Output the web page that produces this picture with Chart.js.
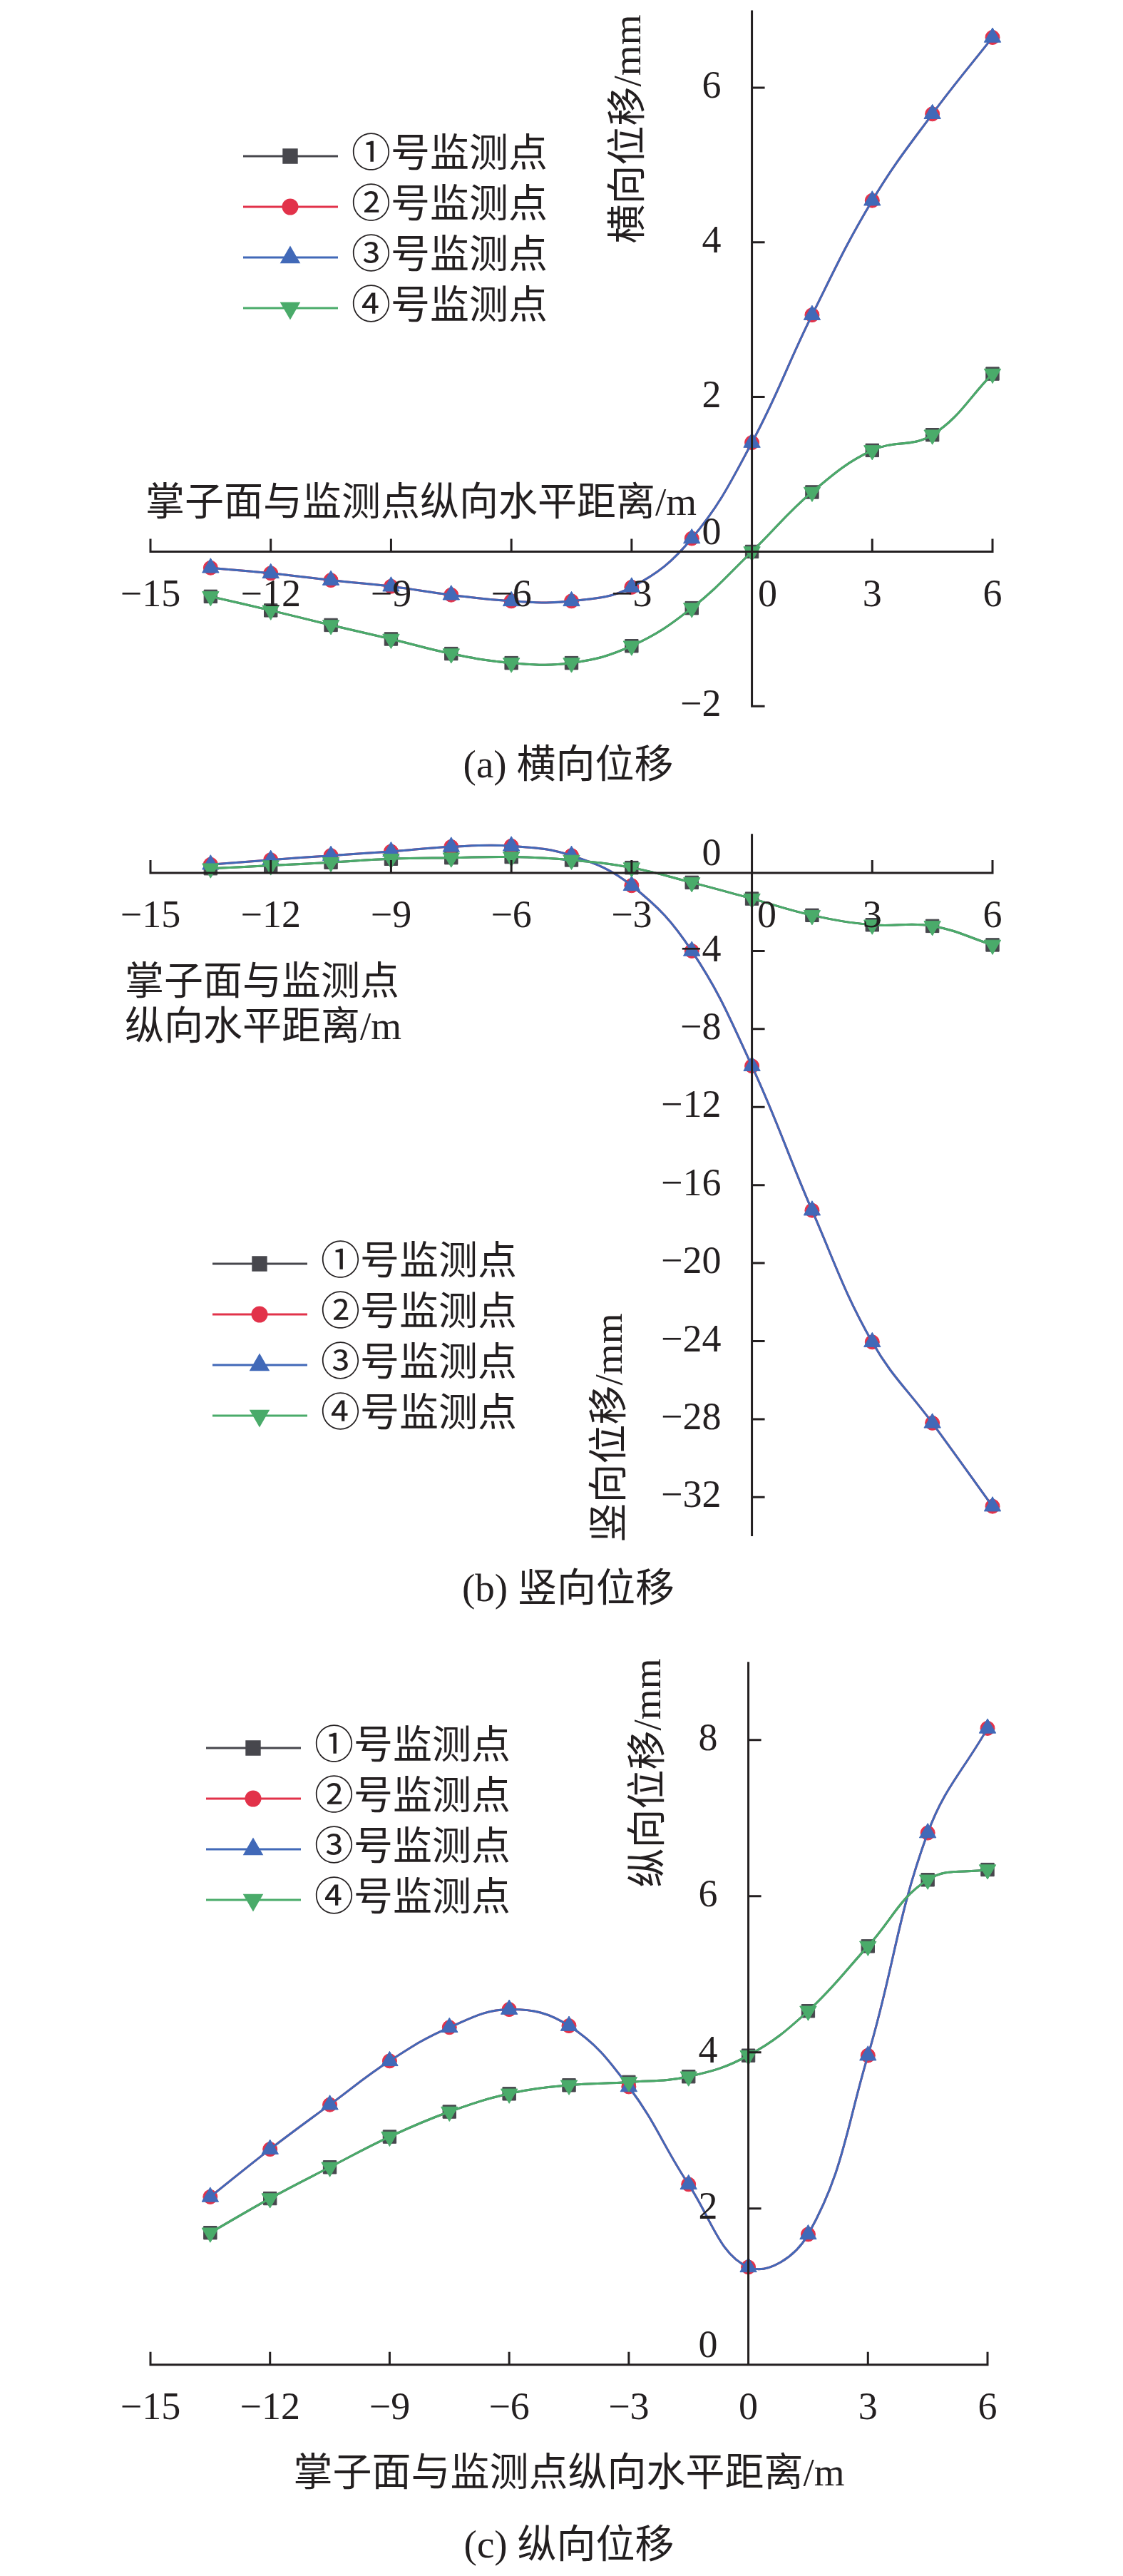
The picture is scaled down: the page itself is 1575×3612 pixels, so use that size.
<!DOCTYPE html>
<html>
<head>
<meta charset="utf-8">
<title>掌子面推进过程中监测点位移</title>
<script src="https://cdn.jsdelivr.net/npm/chart.js@4.4.1/dist/chart.umd.min.js"></script>
<style>
    html, body { margin: 0; padding: 0; background: #fff; }
    body { width: 1575px; height: 3612px; position: relative; overflow: hidden; }
    .panel { position: absolute; left: 0; width: 1575px; }
    .panel canvas { display: block; }
</style>
</head>
<body>
<div class="panel" style="top:0;height:1130px"><canvas id="chartA" width="1575" height="1130"></canvas></div>
<div class="panel" style="top:1130px;height:1170px"><canvas id="chartB" width="1575" height="1170"></canvas></div>
<div class="panel" style="top:2300px;height:1312px"><canvas id="chartC" width="1575" height="1312"></canvas></div>
<script>
// 横坐标：掌子面与监测点纵向水平距离 / m
var distance = [-13.5, -12, -10.5, -9, -7.5, -6, -4.5, -3, -1.5, 0, 1.5, 3, 4.5, 6];
var xTicks = [-15, -12, -9, -6, -3, 0, 3, 6];
var seriesNames = ['①号监测点', '②号监测点', '③号监测点', '④号监测点'];

// (a) 横向位移 / mm
var latTicks = [-2, 0, 2, 4, 6];
var lat1 = [-0.58, -0.76, -0.95, -1.13, -1.32, -1.44, -1.44, -1.22, -0.73, 0.00, 0.77, 1.31, 1.51, 2.30];
var lat2 = [-0.21, -0.28, -0.37, -0.45, -0.56, -0.64, -0.64, -0.46, 0.17, 1.41, 3.06, 4.54, 5.66, 6.65];
var lat3 = [-0.21, -0.28, -0.37, -0.45, -0.56, -0.64, -0.64, -0.46, 0.17, 1.41, 3.06, 4.54, 5.66, 6.65];
var lat4 = [-0.58, -0.76, -0.95, -1.13, -1.32, -1.44, -1.44, -1.22, -0.73, 0.00, 0.77, 1.31, 1.51, 2.30];

// (b) 竖向位移 / mm
var vertTicks = [0, -4, -8, -12, -16, -20, -24, -28, -32];
var vert1 = [0.23, 0.38, 0.54, 0.72, 0.78, 0.82, 0.66, 0.27, -0.49, -1.32, -2.17, -2.66, -2.72, -3.69];
var vert2 = [0.43, 0.67, 0.89, 1.10, 1.34, 1.38, 0.89, -0.65, -4.00, -9.90, -17.30, -24.05, -28.20, -32.47];
var vert3 = [0.43, 0.67, 0.89, 1.10, 1.34, 1.38, 0.89, -0.65, -4.00, -9.90, -17.30, -24.05, -28.20, -32.47];
var vert4 = [0.23, 0.38, 0.54, 0.72, 0.78, 0.82, 0.66, 0.27, -0.49, -1.32, -2.17, -2.66, -2.72, -3.69];

// (c) 纵向位移 / mm
var longTicks = [0, 2, 4, 6, 8];
var long1 = [1.69, 2.13, 2.53, 2.92, 3.24, 3.47, 3.58, 3.62, 3.69, 3.96, 4.53, 5.36, 6.21, 6.34];
var long2 = [2.15, 2.76, 3.33, 3.89, 4.32, 4.55, 4.34, 3.56, 2.31, 1.25, 1.67, 3.96, 6.81, 8.15];
var long3 = [2.15, 2.76, 3.33, 3.89, 4.32, 4.55, 4.34, 3.56, 2.31, 1.25, 1.67, 3.96, 6.81, 8.15];
var long4 = [1.69, 2.13, 2.53, 2.92, 3.24, 3.47, 3.58, 3.62, 3.69, 3.96, 4.53, 5.36, 6.21, 6.34];

// 样式
var INK = '#231f20';
var FONT_TICK = '54px "Liberation Serif", "Noto Sans CJK SC", serif';
var FONT_TEXT = '55px "Liberation Serif", "Noto Sans CJK SC", serif';
var TICK_LEN = 18;
var styles = [
    {color: '#47474d', pointStyle: 'rect', radius: 13, rotation: 0},
    {color: '#e2324a', pointStyle: 'circle', radius: 10, rotation: 0},
    {color: '#4169b8', pointStyle: 'triangle', radius: 13.5, rotation: 0},
    {color: '#4aab6a', pointStyle: 'triangle', radius: 13.5, rotation: 180}
];

function fmt(v) {
    return v < 0 ? '\u2212' + Math.abs(v) : String(v);
}

function buildDatasets(list) {
    return list.map(function (ys, i) {
        var st = styles[i];
        return {
            label: seriesNames[i],
            data: distance.map(function (x, k) { return {x: x, y: ys[k]}; }),
            borderColor: st.color,
            backgroundColor: st.color,
            borderWidth: 3,
            tension: 0.4,
            pointStyle: st.pointStyle,
            pointRadius: st.radius,
            pointRotation: st.rotation,
            pointBorderWidth: 1,
            pointBackgroundColor: st.color,
            pointBorderColor: st.color,
            clip: false,
            order: 4 - i   // ④ 画在最上层
        };
    });
}

function marker(ctx, st, x, y) {
    if (Chart.helpers && Chart.helpers.drawPoint) {
        Chart.helpers.drawPoint(ctx, {pointStyle: st.pointStyle, radius: st.radius, rotation: st.rotation, borderWidth: 1}, x, y);
        return;
    }
    ctx.beginPath();
    ctx.arc(x, y, st.radius, 0, Math.PI * 2);
    ctx.fill();
}

// 十字坐标轴 + 标题 + 图例 + 图名
function crossAxes(cfg) {
    return {
        id: 'crossAxes',
        afterDatasetsDraw: function (chart) {
            var ctx = chart.ctx;
            var xs = chart.scales.x, ys = chart.scales.y;
            var x0 = xs.getPixelForValue(0), y0 = ys.getPixelForValue(0);
            ctx.save();
            ctx.strokeStyle = INK;
            ctx.fillStyle = INK;
            ctx.lineWidth = 3;
            ctx.beginPath();
            ctx.moveTo(xs.getPixelForValue(xs.min), y0);
            ctx.lineTo(xs.getPixelForValue(xs.max), y0);
            cfg.xTicks.forEach(function (v) {
                var px = xs.getPixelForValue(v);
                ctx.moveTo(px, y0 + 1.5);
                ctx.lineTo(px, y0 - TICK_LEN);
            });
            ctx.moveTo(x0, ys.getPixelForValue(ys.max));
            ctx.lineTo(x0, ys.getPixelForValue(ys.min));
            cfg.yTicks.forEach(function (v) {
                var py = ys.getPixelForValue(v);
                ctx.moveTo(x0 - 1.5, py);
                ctx.lineTo(x0 + TICK_LEN, py);
            });
            ctx.stroke();

            // 刻度标签
            ctx.font = FONT_TICK;
            ctx.textBaseline = 'middle';
            ctx.textAlign = 'center';
            cfg.xTicks.forEach(function (v) {
                var shift = v === 0 ? cfg.zeroShiftX : 0;
                ctx.fillText(fmt(v), xs.getPixelForValue(v) + shift, y0 + 62);
            });
            ctx.textAlign = 'right';
            cfg.yTicks.forEach(function (v) {
                var lift = v === 0 ? 25 : 0;
                ctx.fillText(fmt(v), x0 - 43, ys.getPixelForValue(v) - lift);
            });

            // 横轴标题
            ctx.font = FONT_TEXT;
            ctx.textAlign = cfg.xTitle.align;
            cfg.xTitle.lines.forEach(function (t, i) {
                ctx.fillText(t, cfg.xTitle.x, cfg.xTitle.y + i * 63);
            });

            // 纵轴标题（竖排）
            ctx.save();
            ctx.translate(cfg.yTitle.x, cfg.yTitle.y);
            ctx.rotate(-Math.PI / 2);
            ctx.textAlign = 'center';
            ctx.fillText(cfg.yTitle.text, 0, 0);
            ctx.restore();

            // 图例
            var lg = cfg.legend;
            chart.data.datasets.forEach(function (ds, i) {
                var y = lg.top + i * 71;
                ctx.strokeStyle = ds.borderColor;
                ctx.fillStyle = ds.borderColor;
                ctx.lineWidth = 3;
                ctx.beginPath();
                ctx.moveTo(lg.x, y);
                ctx.lineTo(lg.x + 133, y);
                ctx.stroke();
                marker(ctx, styles[i], lg.x + 66, y);
                ctx.fillStyle = INK;
                ctx.textAlign = 'left';
                ctx.fillText(ds.label, lg.x + 152, y);
            });

            // 图名
            ctx.fillStyle = INK;
            ctx.textAlign = 'center';
            ctx.fillText(cfg.caption.text, cfg.caption.x, cfg.caption.y);
            ctx.restore();
        }
    };
}

function makeChart(id, series, yMin, yMax, padding, cfg) {
    return new Chart(document.getElementById(id), {
        type: 'line',
        data: {datasets: buildDatasets(series)},
        options: {
            responsive: false,
            animation: false,
            devicePixelRatio: 1,
            layout: {padding: padding},
            plugins: {legend: {display: false}, tooltip: {enabled: false}},
            scales: {
                x: {type: 'linear', min: -15, max: 6, display: false},
                y: {type: 'linear', min: yMin, max: yMax, display: false}
            }
        },
        plugins: [crossAxes(cfg)]
    });
}

makeChart('chartA', [lat1, lat2, lat3, lat4], -2, 7,
    {left: 211, right: 183, top: 6.6, bottom: 139.7},
    {
        xTicks: xTicks, yTicks: latTicks, zeroShiftX: 22,
        xTitle: {lines: ['掌子面与监测点纵向水平距离/m'], x: 204, y: 708, align: 'left'},
        yTitle: {text: '横向位移/mm', x: 884, y: 181},
        legend: {x: 341, top: 219},
        caption: {text: '(a) 横向位移', x: 797, y: 1076}
    });

makeChart('chartB', [vert1, vert2, vert3, vert4], -34, 2,
    {left: 211, right: 183, top: 39.3, bottom: 146},
    {
        xTicks: xTicks, yTicks: vertTicks, zeroShiftX: 21,
        xTitle: {lines: ['掌子面与监测点', '纵向水平距离/m'], x: 175, y: 250, align: 'left'},
        yTitle: {text: '竖向位移/mm', x: 858, y: 872},
        legend: {x: 298, top: 642},
        caption: {text: '(b) 竖向位移', x: 797, y: 1101}
    });

makeChart('chartC', [long1, long2, long3, long4], 0, 9,
    {left: 211, right: 190, top: 30.3, bottom: 296.2},
    {
        xTicks: xTicks, yTicks: longTicks, zeroShiftX: 0,
        xTitle: {lines: ['掌子面与监测点纵向水平距离/m'], x: 798, y: 1171, align: 'center'},
        yTitle: {text: '纵向位移/mm', x: 912, y: 186},
        legend: {x: 289, top: 151},
        caption: {text: '(c) 纵向位移', x: 798, y: 1272}
    });
</script>
</body>
</html>
